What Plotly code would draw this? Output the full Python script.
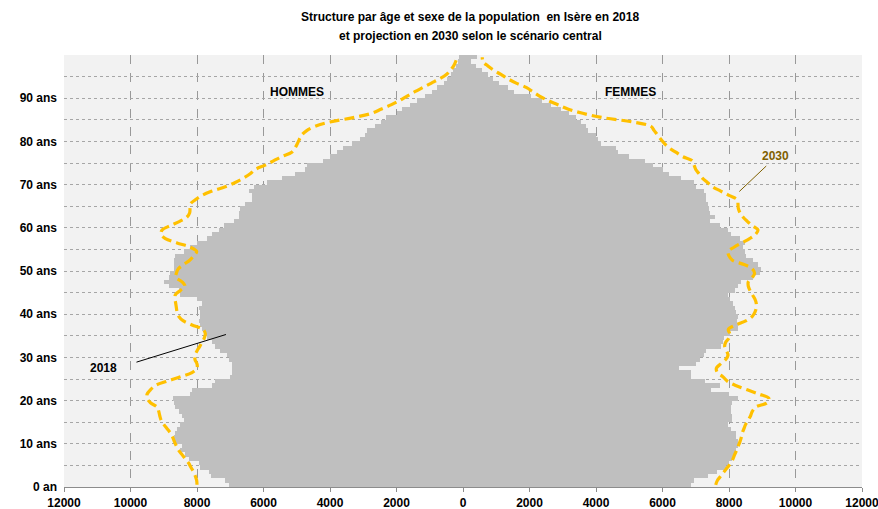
import plotly.graph_objects as go

ages = list(range(100))

hommes_2018 = [7030, 7150, 7580, 7650, 7900, 7950, 8250, 8350, 8500, 8450,
               8650, 8700, 8650, 8600, 8500, 8400, 8450, 8550, 8650, 8700,
               8720, 8200, 8150, 7550, 7450, 7000, 6950, 6950, 6950, 7050,
               7100, 7300, 7450, 7550, 7700, 7750, 7850, 7900, 7950, 7900,
               7900, 7950, 7850, 8000, 8500, 8550, 8850, 9000, 8850, 8800,
               8700, 8700, 8700, 8650, 8400, 8200, 8000, 7700, 7550, 7350,
               7200, 6900, 6750, 6750, 6700, 6550, 6350, 6350, 6450, 6300,
               5900, 5450, 5050, 4750, 4700, 4200, 4000, 3800, 3600, 3350,
               3100, 2950, 2880, 2650, 2480, 2330, 2000, 1830, 1580, 1380,
               1130, 920, 770, 570, 470, 370, 290, 220, 150, 130]

femmes_2018 = [6850, 6950, 7370, 7650, 7900, 8000, 8100, 8150, 8200, 8270,
               8270, 8220, 8200, 8070, 7970, 8100, 8100, 8070, 8070, 8100,
               8270, 8000, 7470, 7720, 7270, 6870, 6870, 6500, 7020, 7120,
               7250, 7300, 7770, 7820, 7850, 8020, 8270, 8270, 8250, 8270,
               8220, 8170, 8120, 8020, 7970, 8170, 8270, 8370, 8720, 8920,
               8970, 8870, 8720, 8520, 8470, 8420, 8470, 8320, 8070, 7970,
               7720, 7420, 7570, 7420, 7400, 7370, 7320, 7320, 7250, 7000,
               6950, 6560, 6210, 6010, 5710, 5460, 5000, 4650, 4600, 4150,
               4050, 4000, 3750, 3700, 3550, 3400, 3200, 2950, 2640, 2390,
               2040, 1540, 1340, 1090, 890, 740, 580, 380, 230, 430]

hommes_2030 = [8000, 8010, 8050, 8100, 8180, 8250, 8350, 8450, 8550, 8620,
               8680, 8730, 8800, 8900, 9000, 9080, 9120, 9150, 9200, 9400,
               9500, 9500, 9400, 9250, 8900, 8500, 8150, 8000, 8000, 8060,
               8060, 8000, 7920, 7850, 7780, 7750, 7820, 8150, 8420, 8550,
               8600, 8620, 8640, 8660, 8650, 8500, 8360, 8450, 8640, 8620,
               8560, 8400, 8220, 8100, 8010, 8200, 8600, 8950, 9080, 9050,
               8800, 8520, 8300, 8220, 8210, 8200, 8050, 7850, 7550, 7150,
               6850, 6600, 6400, 6250, 5950, 5700, 5450, 5150, 5050, 4980,
               4920, 4850, 4700, 4450, 4000, 3300, 2750, 2450, 2150, 1900,
               1680, 1450, 1200, 950, 700, 500, 380, 280, 220, 180]

femmes_2030 = [7600, 7650, 7750, 7850, 7950, 8050, 8120, 8170, 8230, 8280,
               8330, 8370, 8400, 8450, 8500, 8580, 8650, 8700, 8800, 9150,
               9200, 8900, 8550, 8200, 7950, 7820, 7650, 7620, 7750, 7900,
               7970, 7930, 7870, 7900, 8000, 8020, 7980, 8200, 8520, 8700,
               8780, 8820, 8820, 8780, 8700, 8630, 8580, 8580, 8700, 8770,
               8700, 8450, 8100, 8000, 7970, 8150, 8380, 8620, 8800, 8870,
               8700, 8550, 8420, 8330, 8280, 8270, 8250, 8000, 7750, 7500,
               7350, 7200, 7100, 7000, 6950, 6900, 6600, 6400, 6200, 6060,
               5950, 5850, 5750, 5650, 5100, 4200, 3600, 3150, 2850, 2550,
               2300, 2100, 1900, 1600, 1350, 1140, 920, 740, 600, 580]

x_ticks = list(range(-12000, 12001, 2000))
x_labels = [str(abs(v)) for v in x_ticks]
y_ticks = list(range(0, 101, 5))
y_labels = [("0 an" if v == 0 else f"{v} ans") if (v % 10 == 0 and v < 100) else "" for v in y_ticks]

FONT = "Liberation Sans, Arial, sans-serif"
BAR = "#BFBFBF"
GOLD = "#FFC000"

ymid = [a + 0.5 for a in ages]

fig = go.Figure()
fig.add_trace(go.Bar(y=ymid, x=[-v for v in hommes_2018], orientation="h", width=1,
                     marker=dict(color=BAR, line=dict(width=0)), name="Hommes 2018"))
fig.add_trace(go.Bar(y=ymid, x=femmes_2018, orientation="h", width=1,
                     marker=dict(color=BAR, line=dict(width=0)), name="Femmes 2018"))
fig.add_trace(go.Scatter(y=ymid, x=[-v for v in hommes_2030], mode="lines",
                         line=dict(color=GOLD, width=3.2, dash="10px,5px", shape="spline", smoothing=1.0),
                         name="Hommes 2030"))
fig.add_trace(go.Scatter(y=ymid, x=femmes_2030, mode="lines",
                         line=dict(color=GOLD, width=3.2, dash="10px,5px", shape="spline", smoothing=1.0),
                         name="Femmes 2030"))

fig.update_layout(
    width=878, height=509,
    margin=dict(l=64, r=16, t=55, b=22, autoexpand=False),
    paper_bgcolor="white", plot_bgcolor="#F2F2F2",
    barmode="overlay", bargap=0,
    showlegend=False,
    font=dict(family=FONT, size=12, color="black"),
    xaxis=dict(range=[-12000, 12000], tickvals=x_ticks, ticktext=x_labels, automargin=False,
               ticklabeloverflow="allow",
               showgrid=True, gridcolor="#999999", griddash="dash", gridwidth=1,
               zeroline=True, zerolinecolor="#8C8C8C", zerolinewidth=1.5,
               showline=True, linecolor="#8C8C8C", linewidth=1,
               ticks="outside", ticklen=4, tickcolor="#8C8C8C", ticklabelstandoff=1,
               tickfont=dict(family=FONT, size=12, color="black", weight="bold")),
    yaxis=dict(range=[0, 100], tickvals=y_ticks, ticktext=y_labels, automargin=False,
               showgrid=True, gridcolor="#A6A6A6", griddash="dot", gridwidth=1,
               zeroline=False, showline=False, ticks="", ticklabelstandoff=6,
               tickfont=dict(family=FONT, size=12, color="black", weight="bold")),
)

annots = [
    dict(text="<b>Structure par âge et sexe de la population  en Isère en 2018</b>", x=470, y=17),
    dict(text="<b>et projection en 2030 selon le scénario central</b>", x=470, y=36),
]
for a in annots:
    fig.add_annotation(text=a["text"], xref="paper", yref="paper",
                       x=(a["x"] - 64) / 798, y=1 - (a["y"] - 55) / 432,
                       showarrow=False, xanchor="center", yanchor="middle",
                       font=dict(family=FONT, size=12, color="black"))

fig.add_annotation(text="<b>HOMMES</b>", x=-5000, y=91.5, showarrow=False,
                   font=dict(family=FONT, size=12, color="black"))
fig.add_annotation(text="<b>FEMMES</b>", x=5050, y=91.5, showarrow=False,
                   font=dict(family=FONT, size=12, color="black"))
fig.add_annotation(text="<b>2030</b>", x=9400, y=76.6, showarrow=False,
                   font=dict(family=FONT, size=12, color="#7F6000"))
fig.add_annotation(text="<b>2018</b>", x=-10800, y=27.5, showarrow=False,
                   font=dict(family=FONT, size=12, color="black"))
fig.add_shape(type="line", x0=9120, y0=74.3, x1=8310, y1=68.4,
              line=dict(color="#7F6000", width=1))
fig.add_shape(type="line", x0=-9820, y0=28.9, x1=-7130, y1=35.3,
              line=dict(color="black", width=1))

fig.write_html("out.html", config={"displayModeBar": False},
               post_script="document.body.style.margin='0';document.body.style.overflow='hidden';")
